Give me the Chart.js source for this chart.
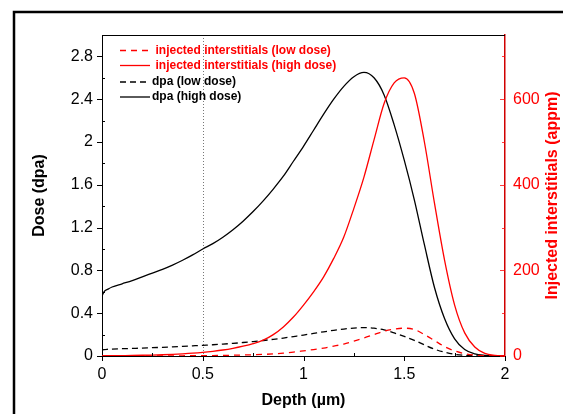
<!DOCTYPE html>
<html>
<head>
<meta charset="utf-8">
<script src="https://cdn.jsdelivr.net/npm/chart.js@4.4.1/dist/chart.umd.min.js"></script>
<style>
  html, body { margin: 0; padding: 0; background: #fff; }
  #wrap { width: 563px; height: 414px; position: relative; }
</style>
</head>
<body>
<div id="wrap"><canvas id="chart" width="563" height="414"></canvas></div>
<script>
(function() {
    'use strict';

    // Depth (um) sampling points, shared by all series
    const depth = [0, 0.01, 0.03, 0.05, 0.1, 0.15, 0.2, 0.25, 0.3, 0.35, 0.4, 0.45, 0.5,
        0.55, 0.6, 0.65, 0.7, 0.75, 0.8, 0.85, 0.9, 0.95, 1.0, 1.05, 1.1, 1.15, 1.2,
        1.25, 1.3, 1.35, 1.4, 1.45, 1.5, 1.55, 1.6, 1.65, 1.7, 1.75, 1.8, 1.85, 1.9, 1.95, 2.0];

    // Injected interstitials (appm), right axis
    const interLow = [0.05, 0.05, 0.06, 0.07, 0.1, 0.13, 0.17, 0.22, 0.29, 0.38, 0.5, 0.65, 0.85,
        1.1, 1.4, 1.8, 2.3, 2.9, 3.7, 5, 6.8, 9.1, 12, 15, 18.5, 23, 28,
        35, 42, 50, 58, 63, 65, 62, 50, 36, 22, 12, 5.4, 2.1, 0.6, 0.15, 0.03];
    const interHigh = [0.5, 0.5, 0.6, 0.7, 1, 1.3, 1.7, 2.2, 2.9, 3.8, 5, 6.5, 8.5,
        11, 14, 18, 23, 29, 37, 50, 68, 91, 119, 150, 185, 228, 278,
        345, 418, 505, 590, 638, 650, 614, 500, 357, 224, 119, 54, 21, 6, 1.5, 0.3];

    // Dose (dpa), left axis
    const dpaLow = [0.056, 0.06, 0.063, 0.065, 0.068, 0.071, 0.074, 0.078, 0.081, 0.085, 0.09, 0.095, 0.1,
        0.105, 0.111, 0.118, 0.126, 0.135, 0.145, 0.156, 0.168, 0.182, 0.196, 0.211, 0.226, 0.24, 0.252,
        0.261, 0.265, 0.26, 0.244, 0.216, 0.183, 0.146, 0.104, 0.064, 0.035, 0.016, 0.006, 0.002, 0.0006, 0, 0];
    const dpaHigh = [0.56, 0.6, 0.625, 0.645, 0.675, 0.705, 0.74, 0.775, 0.81, 0.85, 0.895, 0.945, 1.0,
        1.05, 1.11, 1.18, 1.26, 1.35, 1.45, 1.56, 1.68, 1.82, 1.96, 2.11, 2.26, 2.4, 2.52,
        2.61, 2.65, 2.6, 2.44, 2.16, 1.83, 1.46, 1.04, 0.64, 0.35, 0.16, 0.06, 0.02, 0.006, 0.001, 0];

    // Axis ticks
    const depthTicks = [0, 0.5, 1, 1.5, 2];
    const depthMinor = [0.25, 0.75, 1.25, 1.75];
    const doseTicks = [0, 0.4, 0.8, 1.2, 1.6, 2, 2.4, 2.8];
    const doseMinor = [0.2, 0.6, 1.0, 1.4, 1.8, 2.2, 2.6];
    const appmTicks = [0, 200, 400, 600];
    const appmMinor = [100, 300, 500, 700];
    const markerDepth = 0.5;

    const FONT = '"Liberation Sans", Arial, sans-serif';
    const RED = '#ff0000';

    const pts = (ys) => depth.map((x, i) => ({ x: x, y: ys[i] }));

    const line = (label, ys, color, dash, axis) => ({
        label: label,
        data: pts(ys),
        yAxisID: axis,
        borderColor: color,
        borderWidth: 1.3,
        borderDash: dash,
        pointRadius: 0,
        fill: false,
        cubicInterpolationMode: 'monotone'
    });

    const setTicks = (values) => (scale) => {
        scale.ticks = values.map(v => ({ value: v }));
    };

    // Custom ticks, titles, legend and frame
    const decor = {
        id: 'decor',
        beforeDatasetsDraw(chart) {
            const ctx = chart.ctx;
            const a = chart.chartArea;
            const x = chart.scales.x.getPixelForValue(markerDepth);
            ctx.save();
            ctx.strokeStyle = '#777';
            ctx.lineWidth = 1;
            ctx.setLineDash([1, 2]);
            ctx.beginPath();
            ctx.moveTo(Math.round(x) + 0.5, a.top);
            ctx.lineTo(Math.round(x) + 0.5, a.bottom);
            ctx.stroke();
            ctx.restore();
        },
        afterDraw(chart) {
            const ctx = chart.ctx;
            const a = chart.chartArea;
            const sx = chart.scales.x, sy = chart.scales.y, sr = chart.scales.y2;

            ctx.save();
            ctx.lineWidth = 1;

            // top border of the plot
            ctx.strokeStyle = '#000';
            ctx.beginPath();
            ctx.moveTo(a.left, a.top + 0.5);
            ctx.lineTo(a.right, a.top + 0.5);
            ctx.stroke();

            // x ticks: majors out, minors in
            ctx.beginPath();
            depthTicks.forEach(v => {
                const p = Math.round(sx.getPixelForValue(v)) + 0.5;
                ctx.moveTo(p, a.bottom); ctx.lineTo(p, a.bottom + 5);
            });
            depthMinor.forEach(v => {
                const p = Math.round(sx.getPixelForValue(v)) + 0.5;
                ctx.moveTo(p, a.bottom); ctx.lineTo(p, a.bottom - 3);
            });
            // left ticks
            doseTicks.forEach(v => {
                const p = Math.round(sy.getPixelForValue(v)) + 0.5;
                ctx.moveTo(a.left, p); ctx.lineTo(a.left - 5, p);
            });
            doseMinor.forEach(v => {
                const p = Math.round(sy.getPixelForValue(v)) + 0.5;
                ctx.moveTo(a.left, p); ctx.lineTo(a.left + 3, p);
            });
            ctx.stroke();

            // right ticks, both inward
            ctx.strokeStyle = 'rgba(255,0,0,0.75)';
            ctx.beginPath();
            appmTicks.forEach(v => {
                const p = Math.round(sr.getPixelForValue(v)) + 0.5;
                ctx.moveTo(a.right, p); ctx.lineTo(a.right - 5, p);
            });
            appmMinor.forEach(v => {
                const p = Math.round(sr.getPixelForValue(v)) + 0.5;
                ctx.moveTo(a.right, p); ctx.lineTo(a.right - 3, p);
            });
            ctx.stroke();

            // axis titles
            const midY = (a.top + a.bottom) / 2;
            ctx.font = 'bold 16px ' + FONT;
            ctx.textAlign = 'center';
            ctx.textBaseline = 'middle';
            ctx.fillStyle = '#000';
            ctx.fillText('Depth (\u00b5m)', (a.left + a.right) / 2, 401);

            ctx.save();
            ctx.translate(40, midY);
            ctx.rotate(-Math.PI / 2);
            ctx.fillText('Dose (dpa)', 0, 0);
            ctx.restore();

            ctx.save();
            ctx.translate(553, midY);
            ctx.rotate(-Math.PI / 2);
            ctx.fillStyle = RED;
            ctx.fillText('Injected interstitials (appm)', 0, 0);
            ctx.restore();

            // legend
            const rows = [50.5, 65.5, 82, 97];
            ctx.font = 'bold 12px ' + FONT;
            ctx.textAlign = 'left';
            chart.data.datasets.forEach((ds, i) => {
                const y = rows[i];
                ctx.strokeStyle = ds.borderColor;
                ctx.lineWidth = 1.3;
                ctx.setLineDash(ds.borderDash || []);
                ctx.beginPath();
                ctx.moveTo(120, y);
                ctx.lineTo(150, y);
                ctx.stroke();
                ctx.setLineDash([]);
                ctx.fillStyle = ds.borderColor;
                ctx.fillText(ds.label, ds.borderColor === RED ? 155.5 : 152, y);
            });

            // outer frame
            ctx.strokeStyle = '#000';
            ctx.lineWidth = 2.5;
            ctx.beginPath();
            ctx.moveTo(14, 414);
            ctx.lineTo(14, 12);
            ctx.lineTo(563, 12);
            ctx.stroke();

            ctx.restore();
        }
    };

    const tickFont = { family: FONT, size: 16 };

    new Chart(document.getElementById('chart'), {
        type: 'line',
        data: {
            datasets: [
                line('injected interstitials (low dose)', interLow, RED, [6, 5], 'y2'),
                line('injected interstitials (high dose)', interHigh, RED, [], 'y2'),
                line('dpa (low dose)', dpaLow, '#000', [6, 4], 'y'),
                line('dpa (high dose)', dpaHigh, '#000', [], 'y')
            ]
        },
        options: {
            responsive: false,
            animation: false,
            devicePixelRatio: 1,
            layout: { padding: { top: 35, left: 0, right: 0, bottom: 0 } },
            plugins: {
                legend: { display: false },
                tooltip: { enabled: false }
            },
            scales: {
                x: {
                    type: 'linear',
                    min: 0,
                    max: 2,
                    afterBuildTicks: setTicks(depthTicks),
                    afterFit: (s) => { s.height = 58; },
                    ticks: { font: tickFont, color: '#000', padding: 9, maxRotation: 0, callback: v => String(v) },
                    grid: { drawOnChartArea: false, drawTicks: false },
                    border: { color: '#000', width: 1 }
                },
                y: {
                    position: 'left',
                    min: 0,
                    max: 3,
                    afterBuildTicks: setTicks(doseTicks),
                    afterFit: (s) => { s.width = 102; },
                    ticks: { font: tickFont, color: '#000', padding: 9, callback: v => String(v) },
                    grid: { drawOnChartArea: false, drawTicks: false },
                    border: { color: '#000', width: 1 }
                },
                y2: {
                    position: 'right',
                    min: 0,
                    max: 750,
                    afterBuildTicks: setTicks(appmTicks),
                    afterFit: (s) => { s.width = 58; },
                    ticks: { font: tickFont, color: RED, padding: 8, callback: v => String(v) },
                    grid: { drawOnChartArea: false, drawTicks: false },
                    border: { color: '#d00000', width: 1.5 }
                }
            }
        },
        plugins: [decor]
    });
})();
</script>
</body>
</html>
